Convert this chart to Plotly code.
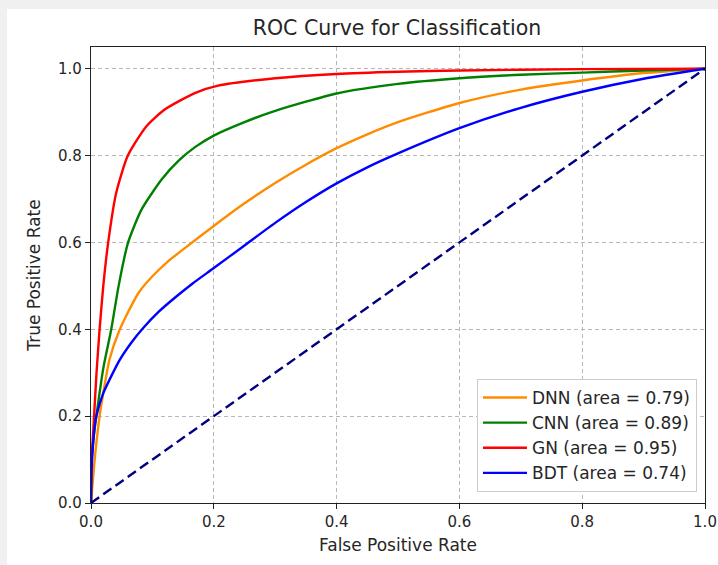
import plotly.graph_objects as go

# ---- data ----
dnn_fpr = [0, 0.006, 0.014, 0.02, 0.03, 0.047, 0.077, 0.1, 0.125, 0.163, 0.2, 0.25, 0.3, 0.35, 0.4, 0.45, 0.5, 0.6, 0.7, 0.8, 0.9, 1.0]
dnn_tpr = [0, 0.10, 0.2, 0.253, 0.33, 0.40, 0.483, 0.522, 0.556, 0.598, 0.638, 0.69, 0.737, 0.779, 0.817, 0.849, 0.877, 0.921, 0.952, 0.973, 0.99, 1.0]

cnn_fpr = [0, 0.001, 0.005, 0.0087, 0.02, 0.033, 0.045, 0.06, 0.082, 0.115, 0.144, 0.17, 0.2, 0.25, 0.3, 0.4, 0.5, 0.6, 0.7, 0.8, 0.9, 1.0]
cnn_tpr = [0, 0.10, 0.16, 0.2, 0.31, 0.4, 0.50, 0.598, 0.675, 0.745, 0.79, 0.82, 0.846, 0.877, 0.903, 0.943, 0.965, 0.978, 0.986, 0.991, 0.996, 1.0]

gn_fpr = [0, 0.0005, 0.005, 0.009, 0.014, 0.02, 0.028, 0.041, 0.06, 0.09, 0.12, 0.169, 0.207, 0.3, 0.4, 0.5, 0.6, 0.8, 1.0]
gn_tpr = [0, 0.08, 0.2, 0.3, 0.4, 0.5, 0.6, 0.714, 0.80, 0.867, 0.906, 0.944, 0.961, 0.978, 0.988, 0.993, 0.996, 0.999, 1.0]

bdt_fpr = [0, 0.001, 0.006, 0.0087, 0.02, 0.047, 0.065, 0.085, 0.11, 0.136, 0.165, 0.2, 0.25, 0.3, 0.35, 0.4, 0.45, 0.5, 0.6, 0.7, 0.8, 0.9, 1.0]
bdt_tpr = [0, 0.08, 0.176, 0.2, 0.253, 0.33, 0.368, 0.403, 0.44, 0.472, 0.505, 0.541, 0.593, 0.645, 0.693, 0.736, 0.773, 0.805, 0.863, 0.91, 0.947, 0.977, 1.0]

chance = [0, 1]

names = ["DNN (area = 0.79)", "CNN (area = 0.89)", "GN (area = 0.95)", "BDT (area = 0.74)"]
colors = ["darkorange", "green", "red", "blue"]

FONT = "DejaVu Sans"
fig = go.Figure()
for fx, fy, nm, c in zip([dnn_fpr, cnn_fpr, gn_fpr, bdt_fpr],
                         [dnn_tpr, cnn_tpr, gn_tpr, bdt_tpr], names, colors):
    fig.add_trace(go.Scatter(x=fx, y=fy, mode="lines", name=nm,
                             line=dict(color=c, width=2.4, shape="spline", smoothing=0.6)))
fig.add_trace(go.Scatter(x=chance, y=chance, mode="lines", showlegend=False,
                         line=dict(color="navy", width=2.4, dash="10px,5px")))

L, R, T, B = 91, 13, 47, 62
W, H = 718, 565
pw, ph = W - L - R, H - T - B
px = lambda v: (v - L) / pw
py = lambda v: (H - B - v) / ph

axis_common = dict(
    showline=True, linecolor="#222", linewidth=1.2, mirror=True,
    ticks="outside", ticklen=5, tickwidth=1, tickcolor="#222",
    showgrid=True, gridcolor="#b8b8b8", gridwidth=1, griddash="4px,3px",
    zeroline=False, tickformat=".1f", dtick=0.2, automargin=False,
    tickfont=dict(family=FONT, size=15, color="#262626"),
)

fig.update_layout(
    width=W, height=H, autosize=False,
    margin=dict(l=L, r=R, t=T, b=B, autoexpand=False),
    paper_bgcolor="#f0f0f0", plot_bgcolor="white",
    title=dict(text="ROC Curve for Classification", x=px(397), xanchor="center",
               xref="paper", y=1 - 28 / H, yanchor="middle", automargin=False,
               font=dict(family=FONT, size=20.5, color="#262626")),
    xaxis=dict(range=[0, 1], title=dict(text="False Positive Rate", standoff=9,
               font=dict(family=FONT, size=17, color="#262626")), **axis_common),
    yaxis=dict(range=[0, 1.05], title=dict(text="True Positive Rate", standoff=13,
               font=dict(family=FONT, size=17, color="#262626")), **axis_common),
    legend=dict(x=px(697), xanchor="right", y=py(492), yanchor="bottom",
                bgcolor="white", bordercolor="#cccccc", borderwidth=1,
                font=dict(family=FONT, size=17, color="#262626"),
                tracegroupgap=0, itemwidth=44),
    shapes=[dict(type="rect", xref="paper", yref="paper", layer="below",
                 x0=px(7), x1=px(W + 5), y0=py(H + 5), y1=py(9),
                 fillcolor="white", line=dict(width=0))],
    showlegend=True,
)

fig.write_html("out.html")
